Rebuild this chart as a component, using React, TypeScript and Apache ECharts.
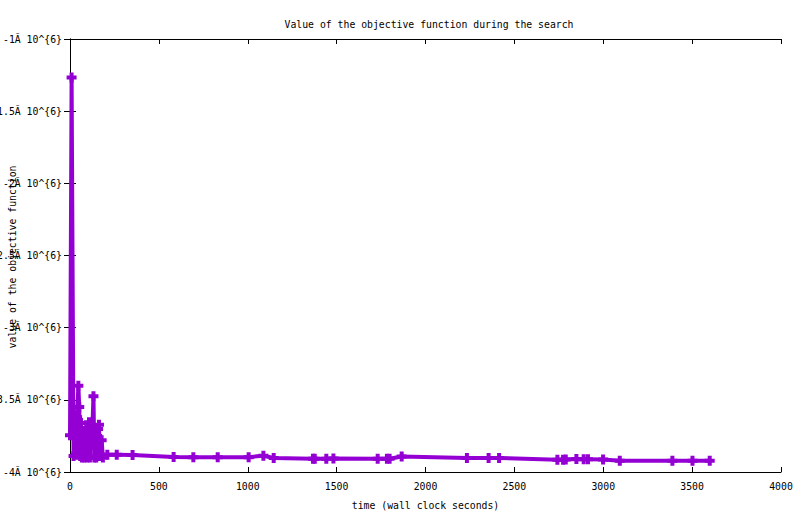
import React, { useEffect, useRef } from "react";
import * as echarts from "echarts";

// time (wall clock seconds)
const times: number[] = [
  0, 9, 20, 28, 33, 40, 47, 52, 57, 62, 67, 74, 80, 86, 91, 96, 102, 107, 112, 118,
  124, 132, 137, 142, 148, 153, 158, 163, 168, 178, 185, 210, 263, 352, 583, 694,
  831, 1005, 1088, 1146, 1367, 1377, 1442, 1482, 1731, 1783, 1798, 1866, 2233, 2355,
  2414, 2742, 2774, 2789, 2849, 2890, 2914, 2999, 3093, 3389, 3502, 3599,
];

// value of the objective function
const values: number[] = [
  -3746000, -1266000, -3890000, -3700000, -3880000, -3620000, -3402000, -3550000,
  -3890000, -3660000, -3900000, -3850000, -3900000, -3720000, -3695000, -3900000,
  -3730000, -3656000, -3900000, -3700000, -3760000, -3476000, -3900000, -3720000,
  -3900000, -3750000, -3702000, -3672000, -3890000, -3780000, -3900000, -3880000,
  -3880000, -3882000, -3896000, -3897000, -3897000, -3897000, -3887000, -3903000,
  -3908000, -3908000, -3908000, -3907000, -3909000, -3908000, -3908000, -3892000,
  -3903000, -3903000, -3903000, -3915000, -3915000, -3914000, -3910000, -3911000,
  -3911000, -3914000, -3922000, -3922000, -3922000, -3922000,
];

const xTicks = { min: 0, max: 4000, interval: 500 };
const yTicks = { min: -4000000, max: -1000000, interval: 500000 };

const titleText = "Value of the objective function during the search";
const xName = "time (wall clock seconds)";
const yName = "value of the objective function";

const FONT = "DejaVu Sans Mono";
const PURPLE = "#9400d3";
const PLUS = "path://M3,0H7V3H10V7H7V10H3V7H0V3H3Z";

const yFormatter = (v: number) => `${v / 1000000}Ã 10^{6}`;
const xFormatter = (v: number) => String(v);

export default function App() {
  const ref = useRef<HTMLDivElement>(null);
  useEffect(() => {
    if (!ref.current) return;
    const chart = echarts.init(ref.current, null, { renderer: "svg" });
    const labelStyle = { color: "#000", fontFamily: FONT, fontSize: 9.8 };
    const axisLine = { show: true, lineStyle: { color: "#000", width: 1 } };
    chart.setOption({
      animation: false,
      backgroundColor: "#fff",
      title: {
        text: titleText,
        left: 424,
        top: 14,
        textAlign: "center",
        textStyle: { ...labelStyle, fontWeight: "normal" },
      },
      graphic: [
        {
          type: "text",
          x: 12,
          y: 257,
          rotation: Math.PI / 2,
          z: 10,
          style: {
            text: yName,
            fill: "#000",
            fontFamily: FONT,
            fontSize: 9.8,
            align: "center",
            verticalAlign: "middle",
            textAlign: "center",
            textVerticalAlign: "middle",
          },
        },
      ],
      grid: {
        left: 70,
        top: 39,
        width: 711,
        height: 433,
        containLabel: false,
        outerBoundsMode: "none",
      },
      xAxis: [
        {
          type: "value",
          ...xTicks,
          name: xName,
          nameLocation: "middle",
          nameGap: 28,
          nameTextStyle: labelStyle,
          axisLine,
          axisTick: { show: true, inside: true, length: 5, lineStyle: { color: "#000" } },
          axisLabel: { ...labelStyle, margin: 9, formatter: xFormatter },
          splitLine: { show: false },
        },
        {
          type: "value",
          position: "top",
          ...xTicks,
          axisLine,
          axisTick: { show: true, inside: true, length: 5, lineStyle: { color: "#000" } },
          axisLabel: { show: false },
          splitLine: { show: false },
        },
      ],
      yAxis: [
        {
          type: "value",
          ...yTicks,
          axisLine,
          axisTick: { show: true, inside: true, length: 6, lineStyle: { color: "#000" } },
          axisLabel: { ...labelStyle, margin: 8, formatter: yFormatter },
          splitLine: { show: false },
        },
        {
          type: "value",
          position: "right",
          ...yTicks,
          axisLine,
          axisTick: { show: true, inside: true, length: 6, lineStyle: { color: "#000" } },
          axisLabel: { show: false },
          splitLine: { show: false },
        },
      ],
      series: [
        {
          type: "line",
          xAxisIndex: 0,
          yAxisIndex: 0,
          data: times.map((t, i) => [t, values[i]]),
          symbol: PLUS,
          symbolSize: 10,
          showAllSymbol: true,
          clip: false,
          lineStyle: { color: PURPLE, width: 4 },
          itemStyle: { color: PURPLE, borderWidth: 0 },
        },
      ],
    });
    return () => chart.dispose();
  }, []);
  return (
    <div
      ref={ref}
      style={{ position: "absolute", left: 0, top: 0, width: 800, height: 514 }}
    />
  );
}
